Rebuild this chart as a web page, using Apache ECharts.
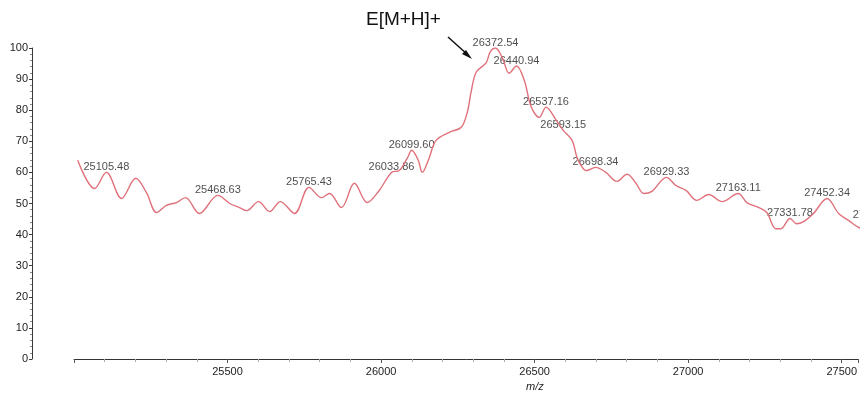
<!DOCTYPE html>
<html>
<head>
<meta charset="utf-8">
<script src="https://cdn.jsdelivr.net/npm/echarts@6/dist/echarts.min.js"></script>
<style>
  html, body { margin: 0; padding: 0; background: #ffffff; }
  #chart { width: 860px; height: 393px; }
</style>
</head>
<body>
<div id="chart"></div>
<script>
// Smoothed mass spectrum trace (m/z vs. relative intensity, %)
const traceMz = [
  25012, 25067, 25155, 25201, 25236, 25269, 25301, 25334, 25363, 25408,
  25507, 25539, 25562, 25601, 25637, 25672, 25718, 25806, 25832, 25871,
  25913, 25955, 25994, 26059, 26085, 26121, 26134, 26156, 26179, 26222,
  26261, 26281, 26293, 26310, 26342, 26355, 26395, 26417, 26466, 26489,
  26515, 26570, 26622, 26638, 26651, 26668, 26732, 26768, 26801, 26830,
  26856, 26882, 26960, 26993, 27028, 27067, 27110, 27191, 27230, 27256,
  27286, 27302, 27353, 27376, 27408, 27490, 27523, 27555, 27581
];
const traceIntensity = [
  63.9, 54.8, 51.6, 58.1, 53.5, 47.1, 49.4, 50.3, 51.9, 46.8,
  50.0, 48.7, 47.7, 50.6, 47.4, 50.6, 46.8, 51.9, 53.2, 48.7,
  56.5, 50.3, 54.2, 60.6, 64.5, 63.9, 60.0, 64.5, 70.3, 72.9,
  74.5, 79.4, 85.8, 92.3, 95.2, 98.7, 96.8, 91.9, 89.7, 81.0,
  77.7, 76.8, 70.3, 64.8, 62.3, 60.6, 60.0, 57.1, 59.4, 56.5,
  53.2, 53.9, 55.8, 54.2, 51.0, 52.9, 50.6, 50.3, 48.7, 47.1,
  41.9, 41.9, 43.5, 44.2, 46.8, 46.8, 44.5, 42.3, 41.6
];

// Labelled peak maxima
const peakMz = [
  25105.48, 25468.63, 25765.43, 26033.86, 26099.60, 26372.54, 26440.94,
  26537.16, 26593.15, 26698.34, 26929.33, 27163.11, 27331.78, 27452.34, 27610.95
];
const peakIntensity = [
  60.0, 52.6, 55.2, 60.0, 67.1, 100.0, 94.2,
  81.0, 73.5, 61.6, 58.4, 53.2, 45.2, 51.6, 44.5
];

const xRange = [25000, 27555];
const xLabelTicks = [25500, 26000, 26500, 27000, 27500];
const yRange = [0, 100];

const annotation = 'E[M+H]+';
const xName = 'm/z';

// merge trace points with the labelled maxima so the curve passes through them
const curve = traceMz.map((m, i) => [m, traceIntensity[i]])
  .concat(peakMz.map((m, i) => [m, peakIntensity[i]]))
  .sort((a, b) => a[0] - b[0]);
const peaks = peakMz.map((m, i) => [m, peakIntensity[i]]);

const font = '"Liberation Sans", Arial, sans-serif';
const textColor = '#222222';

const chart = echarts.init(document.getElementById('chart'), null, { renderer: 'canvas' });

chart.setOption({
  animation: false,
  backgroundColor: '#ffffff',
  grid: { left: 74, right: 0, top: 48, bottom: 34, containLabel: false },
  xAxis: {
    type: 'value',
    min: xRange[0],
    max: xRange[1],
    interval: 500,
    axisLine: { show: true, lineStyle: { color: '#333333', width: 1 } },
    axisTick: { show: true, length: 4, lineStyle: { color: '#555555' } },
    minorTick: { show: true, splitNumber: 5, length: 3, lineStyle: { color: '#aaaaaa' } },
    splitLine: { show: false },
    axisLabel: {
      margin: 7,
      color: textColor,
      fontFamily: font,
      fontSize: 11,
      showMinLabel: false,
      showMaxLabel: false,
      formatter: v => (xLabelTicks.indexOf(v) >= 0 ? String(v) : '')
    }
  },
  yAxis: {
    type: 'value',
    min: yRange[0],
    max: yRange[1],
    interval: 10,
    offset: 42,
    axisLine: { show: true, lineStyle: { color: '#3a3a3a', width: 1 } },
    axisTick: { show: true, length: 3, lineStyle: { color: '#3a3a3a' } },
    minorTick: { show: true, splitNumber: 5, length: 2, lineStyle: { color: '#888888' } },
    splitLine: { show: false },
    axisLabel: { margin: 4, color: textColor, fontFamily: font, fontSize: 11 }
  },
  series: [
    {
      name: 'spectrum',
      type: 'line',
      data: curve,
      smooth: 0.35,
      showSymbol: false,
      lineStyle: { color: '#e0717b', width: 1.4 },
      silent: true
    },
    {
      name: 'peaks',
      type: 'scatter',
      data: peaks,
      symbolSize: 0,
      clip: false,
      silent: true,
      label: {
        show: true,
        position: 'top',
        distance: 0,
        color: textColor,
        fontFamily: font,
        fontSize: 11,
        formatter: p => p.value[0].toFixed(2)
      }
    }
  ],
  graphic: [
    {
      type: 'text',
      left: 366,
      top: 10,
      style: { text: annotation, fill: '#111111', font: '19px ' + font }
    },
    {
      type: 'line',
      shape: { x1: 448, y1: 37, x2: 468, y2: 55 },
      style: { stroke: '#111111', lineWidth: 1.5 }
    },
    {
      type: 'polygon',
      shape: { points: [[472, 59], [462, 54], [466, 50]] },
      style: { fill: '#111111' }
    },
    {
      type: 'text',
      left: 526,
      top: 381,
      style: { text: xName, fill: textColor, font: 'italic 11px ' + font }
    }
  ]
});
</script>
</body>
</html>
